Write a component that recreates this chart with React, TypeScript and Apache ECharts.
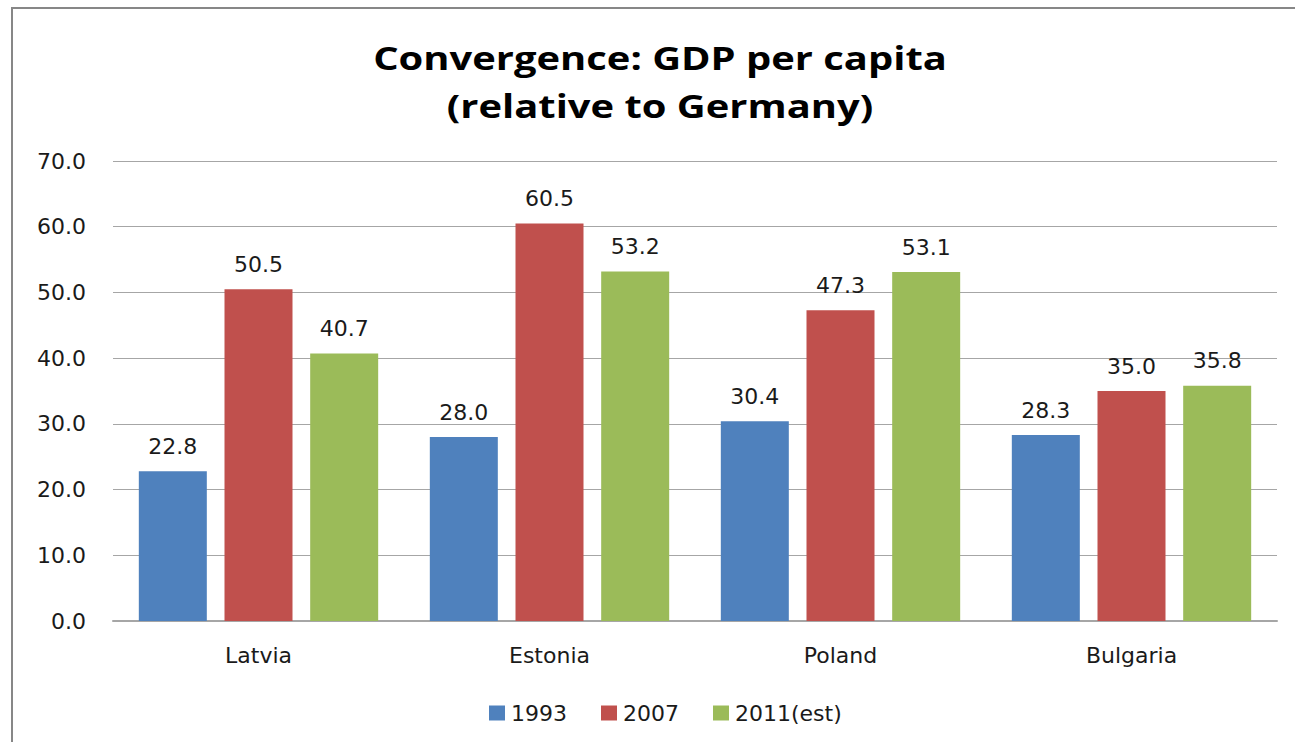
import React, { useEffect, useRef } from "react";
import * as echarts from "echarts";

const categories = ["Latvia", "Estonia", "Poland", "Bulgaria"];
const seriesNames = ["1993", "2007", "2011(est)"];
const values1993 = [22.8, 28.0, 30.4, 28.3];
const values2007 = [50.5, 60.5, 47.3, 35.0];
const values2011 = [40.7, 53.2, 53.1, 35.8];
const colors = ["#4F81BD", "#C0504D", "#9BBB59"];

const FONT = "DejaVu Sans";

export default function App() {
  const ref = useRef<HTMLDivElement>(null);
  useEffect(() => {
    if (!ref.current) return;
    const chart = echarts.init(ref.current, undefined, { renderer: "svg" });
    const allValues = [values1993, values2007, values2011];
    chart.setOption({
      animation: false,
      backgroundColor: "#ffffff",
      graphic: [
        {
          type: "rect",
          shape: { x: 12, y: 8, width: 1400, height: 900 },
          style: { fill: "none", stroke: "#878787", lineWidth: 2 },
          silent: true,
        },
        {
          type: "text",
          x: 660,
          y: 81,
          scaleX: 1.21,
          style: {
            text: "Convergence: GDP per capita\n(relative to Germany)",
            textAlign: "center",
            textVerticalAlign: "middle",
            fontFamily: "Open Sans",
            fontWeight: "bold",
            fontSize: 33,
            lineHeight: 48,
            fill: "#000000",
          },
        },
      ],
      legend: {
        data: seriesNames,
        left: 484,
        top: 697,
        itemWidth: 16,
        itemHeight: 15,
        itemGap: 34,
        icon: "rect",
        textStyle: { fontFamily: FONT, fontSize: 22, color: "#1a1a1a", padding: [0, 0, 0, 1] },
      },
      grid: { left: 113, right: 18, top: 161, bottom: 121 },
      xAxis: {
        type: "category",
        data: categories,
        axisLine: { lineStyle: { color: "#a6a6a6", width: 2 } },
        axisTick: { show: false },
        axisLabel: { fontFamily: FONT, fontSize: 22, color: "#1a1a1a", margin: 23 },
      },
      yAxis: {
        type: "value",
        min: 0,
        max: 70,
        interval: 10,
        axisLine: { show: false },
        axisTick: { show: false },
        splitLine: { lineStyle: { color: "#a6a6a6", width: 1 } },
        axisLabel: {
          fontFamily: FONT,
          fontSize: 22,
          color: "#1a1a1a",
          margin: 27,
          formatter: (v: number) => v.toFixed(1),
        },
      },
      series: seriesNames.map((name, i) => ({
        name,
        type: "bar",
        data: allValues[i],
        barWidth: 68,
        barGap: "26%",
        itemStyle: { color: colors[i] },
        label: {
          show: true,
          position: "top",
          distance: 14,
          fontFamily: FONT,
          fontSize: 22,
          color: "#1a1a1a",
          formatter: (p: any) => Number(p.value).toFixed(1),
        },
      })),
    });
    return () => chart.dispose();
  }, []);
  return (
    <div
      ref={ref}
      style={{ position: "fixed", left: 0, top: 0, width: 1295, height: 742 }}
    />
  );
}
